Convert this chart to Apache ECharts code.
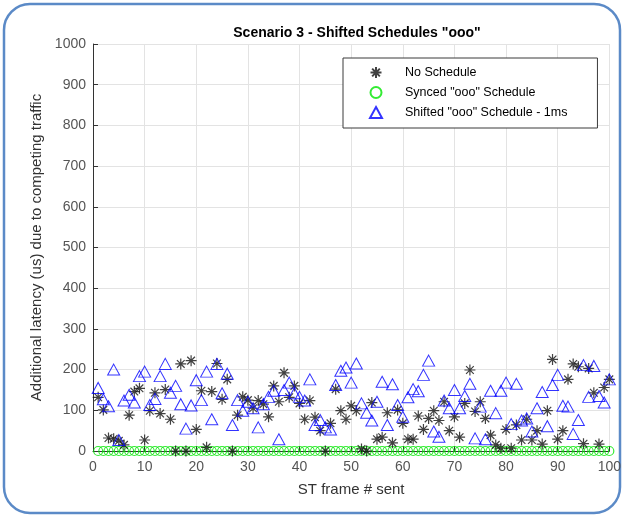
<!DOCTYPE html>
<html>
<head>
<meta charset="utf-8">
<script src="https://cdn.jsdelivr.net/npm/echarts@6/dist/echarts.min.js"></script>
<style>html,body{margin:0;padding:0;background:#fff;}#c{width:624px;height:517px;}</style>
</head>
<body>
<div id="c"></div>
<script>
const titleText = 'Scenario 3 - Shifted Schedules "ooo"';
const xAxisName = 'ST frame # sent';
const yAxisName = 'Additional latency (us) due to competing traffic';
const seriesNames = ['No Schedule', 'Synced "ooo" Schedule', 'Shifted "ooo" Schedule - 1ms'];

const frames = [1,2,3,4,5,6,7,8,9,10,11,12,13,14,15,16,17,18,19,20,21,22,23,24,25,26,27,28,29,30,31,32,33,34,35,36,37,38,39,40,41,42,43,44,45,46,47,48,49,50,51,52,53,54,55,56,57,58,59,60,61,62,63,64,65,66,67,68,69,70,71,72,73,74,75,76,77,78,79,80,81,82,83,84,85,86,87,88,89,90,91,92,93,94,95,96,97,98,99,100];

const noSchedule = [132,101,32,30,25,15,88,146,154,27,99,143,92,151,78,0,214,0,222,53,148,9,146,215,127,176,0,88,133,125,105,124,115,84,160,121,192,132,160,117,78,124,83,50,0,68,152,99,78,111,99,5,0,119,29,34,94,20,101,68,29,29,86,53,80,99,75,121,50,84,34,117,199,97,121,80,39,15,7,53,7,64,27,78,27,50,17,99,225,29,50,176,214,207,18,203,143,17,156,176];

const syncedSchedule = [0,0,0,0,0,0,0,0,0,0,0,0,0,0,0,0,0,0,0,0,0,0,0,0,0,0,0,0,0,0,0,0,0,0,0,0,0,0,0,0,0,0,0,0,0,0,0,0,0,0,0,0,0,0,0,0,0,0,0,0,0,0,0,0,0,0,0,0,0,0,0,0,0,0,0,0,0,0,0,0,0,0,0,0,0,0,0,0,0,0,0,0,0,0,0,0,0,0,0,0];

const shiftedSchedule = [155,127,110,200,27,124,138,119,184,195,113,128,184,214,143,160,115,55,112,174,125,195,78,214,142,190,64,125,99,121,105,58,115,133,148,29,150,168,142,133,124,176,64,76,58,53,162,197,205,168,215,117,94,75,121,170,64,164,113,84,132,152,147,187,222,48,35,124,105,150,105,135,165,31,109,29,148,93,148,168,66,165,75,80,48,105,145,61,162,187,111,109,42,76,211,133,209,135,119,176];

function pairs(xs, ys) { return xs.map((x, i) => [x, ys[i]]); }

const FONT = '"Liberation Sans", Arial, Helvetica, sans-serif';
const asteriskPath = 'path://M5,0L5,10M0,5L10,5M1.5,1.5L8.5,8.5M1.5,8.5L8.5,1.5';

const chart = echarts.init(document.getElementById('c'), null, {renderer: 'canvas'});
chart.setOption({
  animation: false,
  backgroundColor: '#ffffff',
  textStyle: {fontFamily: FONT},
  title: {
    text: titleText,
    left: 352, top: 21, textAlign: 'center',
    textStyle: {fontFamily: FONT, fontSize: 14, fontWeight: 'bold', color: '#000'}
  },
  graphic: [{
    type: 'rect', z: -10, silent: true,
    shape: {x: 4, y: 4, width: 616, height: 509, r: 26},
    style: {fill: 'none', stroke: '#5b8ac7', lineWidth: 2.5}
  }],
  grid: {left: 93, right: 12, top: 44, bottom: 66, containLabel: false},
  legend: {
    orient: 'vertical',
    left: 343, top: 58,
    padding: [8, 30, 9, 26],
    itemWidth: 12, itemHeight: 11, itemGap: 7,
    symbolKeepAspect: true,
    backgroundColor: '#fff',
    borderColor: '#3a3a3a', borderWidth: 1,
    textStyle: {fontFamily: FONT, fontSize: 12.5, color: '#000', padding: [0, 0, 0, 18]},
    data: seriesNames
  },
  xAxis: {
    type: 'value', min: 0, max: 100, interval: 10,
    name: xAxisName, nameLocation: 'middle', nameGap: 31,
    nameTextStyle: {fontFamily: FONT, fontSize: 15, color: '#333'},
    axisLine: {show: true, onZero: false, lineStyle: {color: '#333', width: 1}},
    axisTick: {show: true, inside: true, length: 5, lineStyle: {color: '#333'}},
    axisLabel: {fontFamily: FONT, fontSize: 14, color: '#555', margin: 9},
    splitLine: {show: true, lineStyle: {color: '#e3e3e3', width: 1}}
  },
  yAxis: {
    type: 'value', min: 0, max: 1000, interval: 100,
    name: yAxisName, nameLocation: 'middle', nameGap: 49, nameRotate: 90,
    nameTextStyle: {fontFamily: FONT, fontSize: 15, color: '#333'},
    axisLine: {show: true, lineStyle: {color: '#333', width: 1}},
    axisTick: {show: true, inside: true, length: 5, lineStyle: {color: '#333'}},
    axisLabel: {fontFamily: FONT, fontSize: 14, color: '#555', margin: 7, formatter: v => String(v)},
    splitLine: {show: true, lineStyle: {color: '#e3e3e3', width: 1}}
  },
  series: [
    {
      name: seriesNames[0], type: 'scatter',
      data: pairs(frames, noSchedule),
      symbol: asteriskPath, symbolSize: 11, symbolKeepAspect: true,
      itemStyle: {color: '#000', borderColor: '#111', borderWidth: 1.2},
      z: 3
    },
    {
      name: seriesNames[1], type: 'scatter',
      data: pairs(frames, syncedSchedule),
      symbol: 'circle', symbolSize: 9,
      itemStyle: {color: 'rgba(0,0,0,0)', borderColor: '#00e600', borderWidth: 1.2},
      z: 2
    },
    {
      name: seriesNames[2], type: 'scatter',
      data: pairs(frames, shiftedSchedule),
      symbol: 'triangle', symbolSize: [12, 11], symbolKeepAspect: true,
      itemStyle: {color: 'rgba(0,0,0,0)', borderColor: '#0000ff', borderWidth: 1},
      z: 4
    }
  ]
});
</script>
</body>
</html>
